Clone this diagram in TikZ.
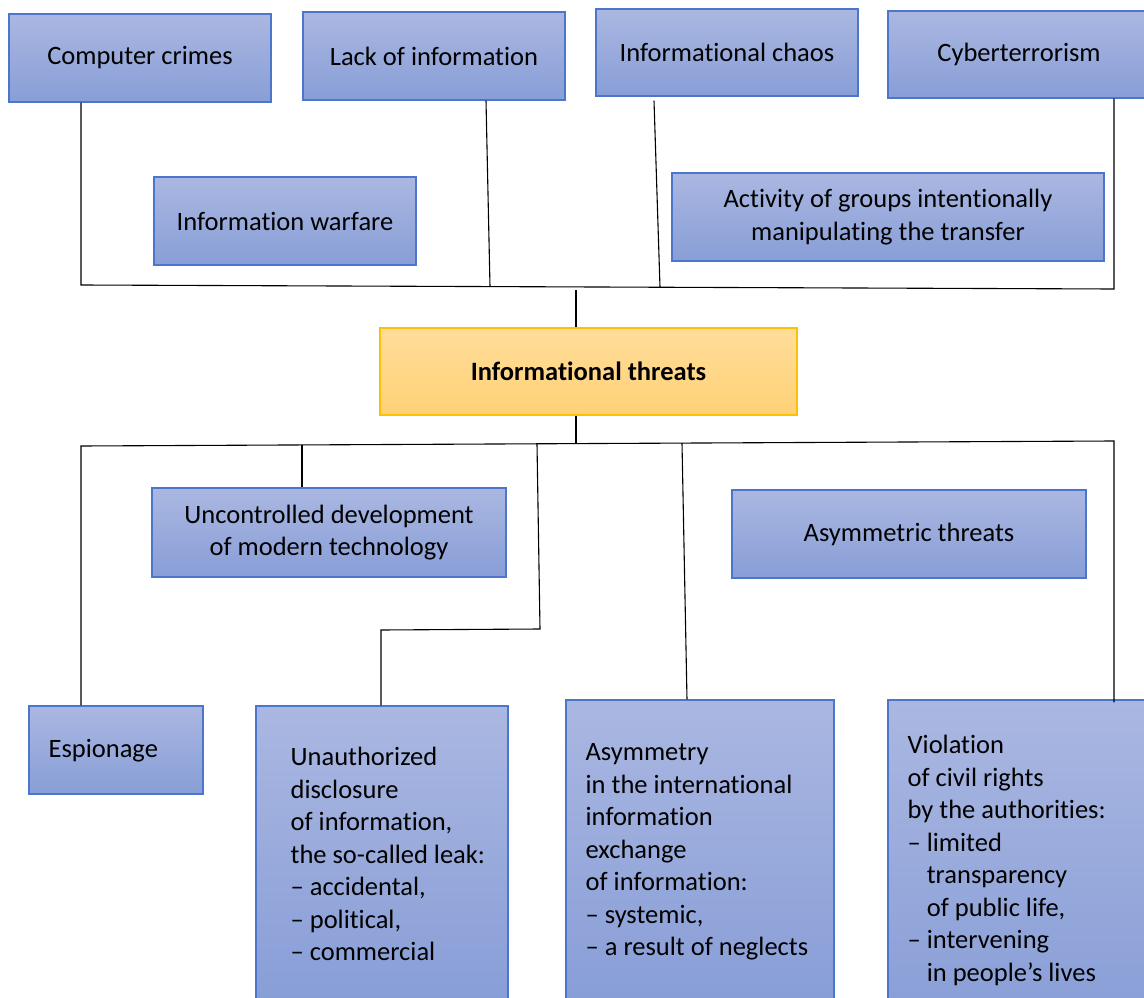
\documentclass[tikz,border=0pt]{standalone}
\usepackage{fontspec}
\setmainfont{Carlito}[Ligatures={NoCommon}]
\usetikzlibrary{calc}
\definecolor{btop}{RGB}{170,183,225}
\definecolor{bbot}{RGB}{136,158,215}
\definecolor{bline}{RGB}{76,118,204}
\definecolor{ytop}{RGB}{255,221,154}
\definecolor{ybot}{RGB}{255,209,118}
\definecolor{yline}{RGB}{255,192,0}
\begin{document}
\begin{tikzpicture}[x=1pt,y=-1pt,
  every node/.style={font=\fontsize{26.5}{32.5}\selectfont, inner sep=0pt},
  bluebox/.style={draw=bline, line width=1.1pt, top color=btop, bottom color=bbot, align=center},
  yellowbox/.style={draw=yline, line width=1.1pt, top color=ytop, bottom color=ybot, align=center, font=\fontsize{26.5}{32.5}\selectfont\bfseries},
  txt/.style={align=left, anchor=west},
  conn/.style={draw=black, line width=1.1pt}]
\useasboundingbox (0,0) rectangle (1144,998);
% top row
\node[bluebox, minimum width=262pt, minimum height=88pt] (cc) at (140,58) {Computer crimes};
\node[bluebox, minimum width=262pt, minimum height=88pt] (lack) at (434,56) {Lack of information};
\node[bluebox, minimum width=262pt, minimum height=87pt] (chaos) at (727,52.5) {Informational chaos};
\node[bluebox, minimum width=262pt, minimum height=87pt] (cyber) at (1019,54.5) {Cyberterrorism};
\node[bluebox, minimum width=262pt, minimum height=88pt] (war) at (285,221) {Information warfare};
\node[bluebox, minimum width=432pt, minimum height=88pt] (act) at (888,217) {Activity of groups intentionally\\manipulating the transfer};
% center
\node[yellowbox, minimum width=417pt, minimum height=87pt] (thr) at (588.5,371.5) {Informational threats};
% middle row
\node[bluebox, minimum width=354pt, minimum height=89pt] (unc) at (329,532.5) {Uncontrolled development\\of modern technology};
\node[bluebox, minimum width=354pt, minimum height=88pt] (ath) at (909,534) {Asymmetric threats};
% bottom row
\node[bluebox, minimum width=174pt, minimum height=88pt] (esp) at (116,750) {};
\node[txt] (espT) at ($(esp.west)+(20,1)$) {Espionage};
\node[bluebox, minimum width=252pt, minimum height=294pt] (una) at (382,853) {};
\node[txt] (unaT) at ($(una.west)+(35,1)$) {Unauthorized\\disclosure\\of information,\\the so-called leak:\\\textendash\ accidental,\\\textendash\ political,\\\textendash\ commercial};
\node[bluebox, minimum width=268pt, minimum height=300pt] (asy) at (700,850) {};
\node[txt] (asyT) at ($(asy.west)+(20,2)$) {Asymmetry\\in the international\\information\\exchange\\of information:\\\textendash\ systemic,\\\textendash\ a result of neglects};
\node[bluebox, minimum width=262pt, minimum height=323pt] (vio) at (1019,861.5) {};
\node[txt] (vioT) at ($(vio.west)+(20,-1)$) {Violation\\of civil rights\\by the authorities:\\\textendash\ limited\\\phantom{\textendash\ }transparency\\\phantom{\textendash\ }of public life,\\\textendash\ intervening\\\phantom{\textendash\ }in people’s lives};
% top connectors
\coordinate (tl) at (81,285);
\coordinate (tr) at (1114,289);
\coordinate (tj1) at (490,286.6);
\coordinate (tj2) at (660,287.2);
\coordinate (tc) at (576,290);
\draw[conn] (tl |- cc.south) -- (tl) -- (tr) -- (tr |- cyber.south);
\draw[conn] ($(lack.south)+(52,0)$) -- (tj1);
\draw[conn] ($(chaos.south)+(-73,4)$) -- (tj2);
\draw[conn] (tc) -- (tc |- thr.north);
% bottom connectors
\coordinate (bc) at (576,443.6);
\coordinate (bl) at (81,446);
\coordinate (br) at (1114,441);
\coordinate (bj1) at (302,444.9);
\coordinate (bj2) at (537,443.8);
\coordinate (bk1) at (540,629);
\coordinate (bk2) at (381,630);
\coordinate (bj3) at (682,443.1);
\draw[conn] (bc |- thr.south) -- (bc);
\draw[conn] (bl |- esp.north) -- (bl) -- (br) -- ($(br |- vio.north)+(0,3)$);
\draw[conn] (bj1) -- (bj1 |- unc.north);
\draw[conn] (bj2) -- (bk1) -- (bk2) -- (bk2 |- una.north);
\draw[conn] (bj3) -- ($(asy.north)+(-13,0)$);
\end{tikzpicture}
\end{document}
